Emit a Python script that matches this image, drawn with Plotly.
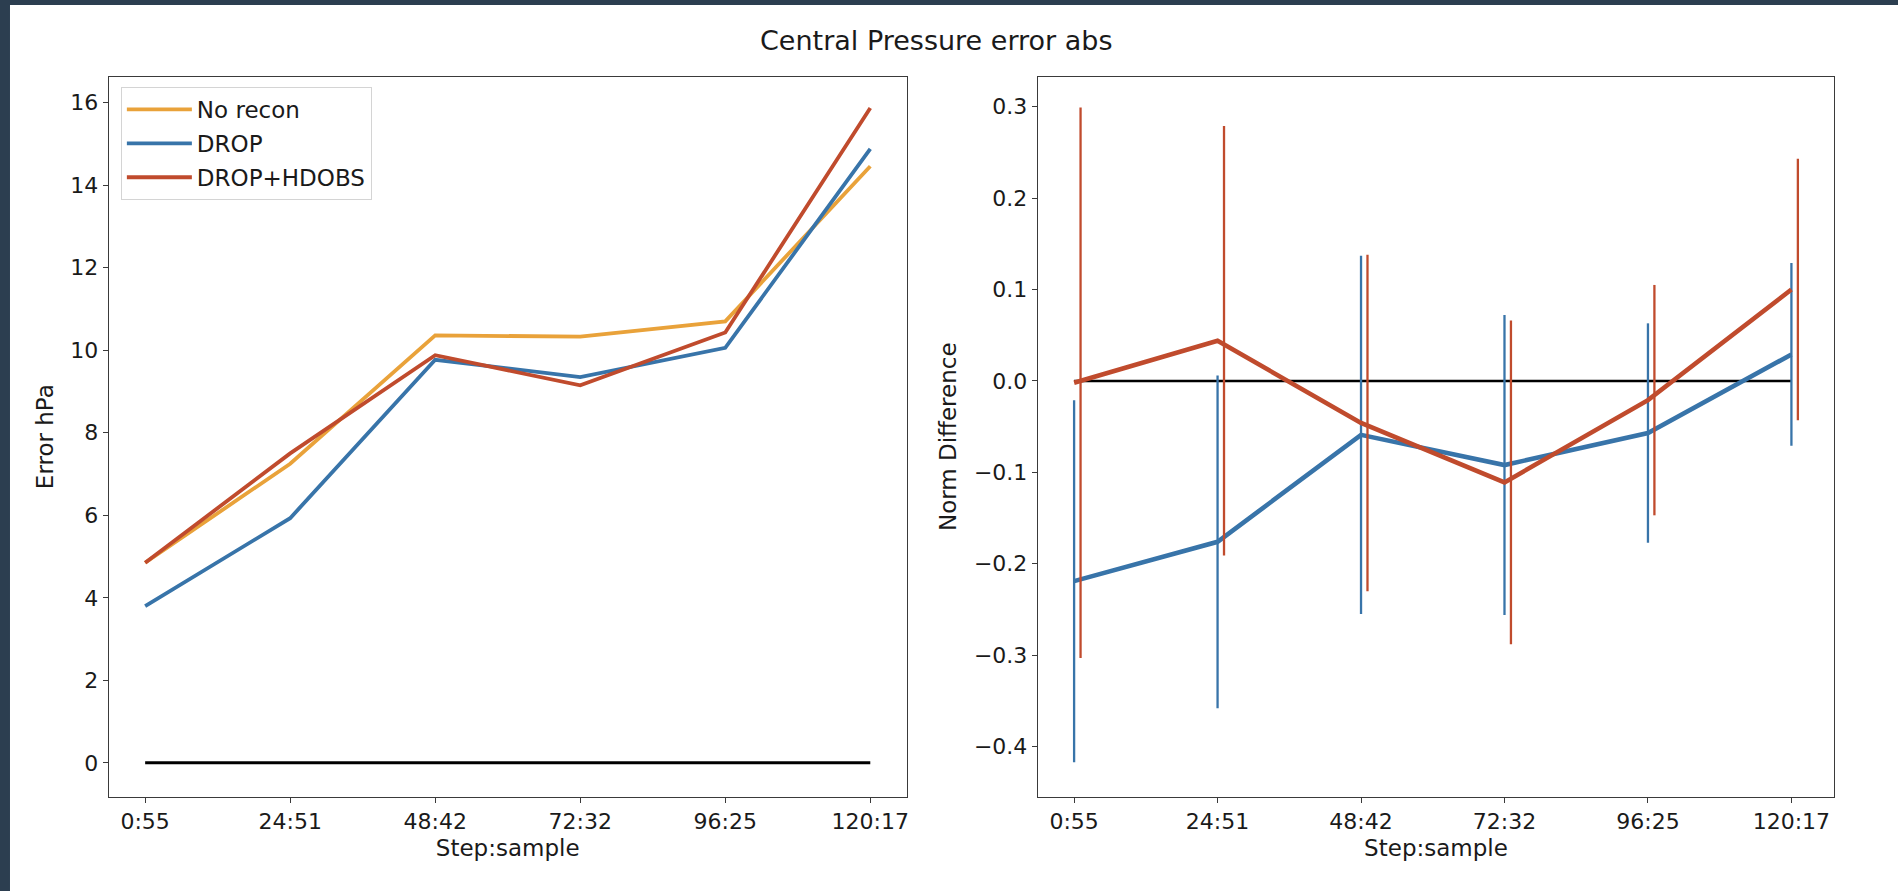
import plotly.graph_objects as go

# ---------------- data ----------------
categories = ["0:55", "24:51", "48:42", "72:32", "96:25", "120:17"]

no_recon = [4.85, 7.25, 10.36, 10.33, 10.70, 14.46]
drop = [3.80, 5.93, 9.77, 9.35, 10.06, 14.88]
drop_hdobs = [4.85, 7.50, 9.88, 9.15, 10.43, 15.87]

drop_diff = [-0.219, -0.176, -0.059, -0.092, -0.057, 0.029]
drop_err = [0.198, 0.182, 0.196, 0.164, 0.120, 0.100]
hdobs_diff = [-0.002, 0.044, -0.046, -0.111, -0.021, 0.100]
hdobs_err = [0.301, 0.235, 0.184, 0.177, 0.126, 0.143]

baseline = [0, 0]

# ---------------- styles ----------------
ORANGE = "#E9A23A"
BLUE = "#3874A9"
RED = "#C04B2D"
FONT = "DejaVu Sans"
TXT = "#1a1a1a"
SPINE = "#3a3a3a"
W, H = 1900, 891
ERR_SHIFT = 0.045

xi = list(range(len(categories)))
x_ends = [xi[0], xi[-1]]
xi_shift = [v + ERR_SHIFT for v in xi]

fig = go.Figure()

# ---- left panel ----
fig.add_trace(go.Scatter(x=xi, y=no_recon, mode="lines", name="No recon", legendgroup="a",
                         line=dict(color=ORANGE, width=3.8), xaxis="x", yaxis="y"))
fig.add_trace(go.Scatter(x=xi, y=drop, mode="lines", name="DROP", legendgroup="b",
                         line=dict(color=BLUE, width=3.8), xaxis="x", yaxis="y"))
fig.add_trace(go.Scatter(x=xi, y=drop_hdobs, mode="lines", name="DROP+HDOBS", legendgroup="c",
                         line=dict(color=RED, width=3.8), xaxis="x", yaxis="y"))
fig.add_trace(go.Scatter(x=x_ends, y=baseline, mode="lines", showlegend=False,
                         line=dict(color="black", width=3), xaxis="x", yaxis="y"))

# ---- right panel ----
fig.add_trace(go.Scatter(x=x_ends, y=baseline, mode="lines", showlegend=False,
                         line=dict(color="black", width=2.4), xaxis="x2", yaxis="y2"))
fig.add_trace(go.Scatter(x=xi, y=drop_diff, mode="markers", showlegend=False,
                         marker=dict(size=1, opacity=0, color=BLUE),
                         error_y=dict(type="data", array=drop_err, visible=True,
                                      color=BLUE, thickness=2.3, width=0),
                         xaxis="x2", yaxis="y2"))
fig.add_trace(go.Scatter(x=xi, y=drop_diff, mode="lines", showlegend=False,
                         line=dict(color=BLUE, width=4.6), xaxis="x2", yaxis="y2"))
fig.add_trace(go.Scatter(x=xi_shift, y=hdobs_diff, mode="markers", showlegend=False,
                         marker=dict(size=1, opacity=0, color=RED),
                         error_y=dict(type="data", array=hdobs_err, visible=True,
                                      color=RED, thickness=2.3, width=0),
                         xaxis="x2", yaxis="y2"))
fig.add_trace(go.Scatter(x=xi, y=hdobs_diff, mode="lines", showlegend=False,
                         line=dict(color=RED, width=4.6), xaxis="x2", yaxis="y2"))

ydom = [1 - 796.7 / H, 1 - 76.7 / H]

common_axis = dict(showline=True, mirror=True, linecolor=SPINE, linewidth=1.3,
                   ticks="outside", ticklen=5, tickwidth=1.2, tickcolor=SPINE,
                   showgrid=False, zeroline=False,
                   tickfont=dict(family=FONT, size=22, color=TXT))

fig.update_layout(
    width=W, height=H,
    margin=dict(l=0, r=0, t=0, b=0),
    paper_bgcolor="white", plot_bgcolor="white",
    font=dict(family=FONT, color=TXT),
    xaxis=dict(domain=[109 / W, 907.5 / W], range=[-0.25, 5.25],
               tickmode="array", tickvals=xi, ticktext=categories,
               title=dict(text="Step:sample", font=dict(family=FONT, size=23, color=TXT), standoff=6),
               anchor="y", **common_axis),
    yaxis=dict(domain=ydom, range=[-0.82, 16.63], dtick=2, tick0=0,
               title=dict(text="Error hPa", font=dict(family=FONT, size=23, color=TXT), standoff=10),
               anchor="x", **common_axis),
    xaxis2=dict(domain=[1039 / W, 1836 / W], range=[-0.2523, 5.2973],
                tickmode="array", tickvals=xi, ticktext=categories,
                title=dict(text="Step:sample", font=dict(family=FONT, size=23, color=TXT), standoff=6),
                anchor="y2", **common_axis),
    yaxis2=dict(domain=ydom, range=[-0.4548, 0.3328], dtick=0.1, tick0=0, tickformat=".1f",
                title=dict(text="Norm Difference", font=dict(family=FONT, size=23, color=TXT), standoff=10),
                anchor="x2", **common_axis),
    legend=dict(x=121 / W, y=1 - 87 / H, xanchor="left", yanchor="top",
                bgcolor="white", bordercolor="#d4d4d4", borderwidth=1,
                itemwidth=65, tracegroupgap=1,
                font=dict(family=FONT, size=23, color=TXT)),
    showlegend=True,
    annotations=[dict(text="Central Pressure error abs", x=937 / W, y=1 - 40 / H,
                      xref="paper", yref="paper", xanchor="center", yanchor="middle",
                      showarrow=False, font=dict(family=FONT, size=27, color=TXT))],
    shapes=[
        dict(type="rect", xref="paper", yref="paper", x0=0, x1=10 / W, y0=0, y1=1,
             fillcolor="#2c3e50", line=dict(width=0), layer="below"),
        dict(type="rect", xref="paper", yref="paper", x0=0, x1=1, y0=1 - 5 / H, y1=1,
             fillcolor="#2c3e50", line=dict(width=0), layer="below"),
    ],
)

fig.write_html("out.html")
